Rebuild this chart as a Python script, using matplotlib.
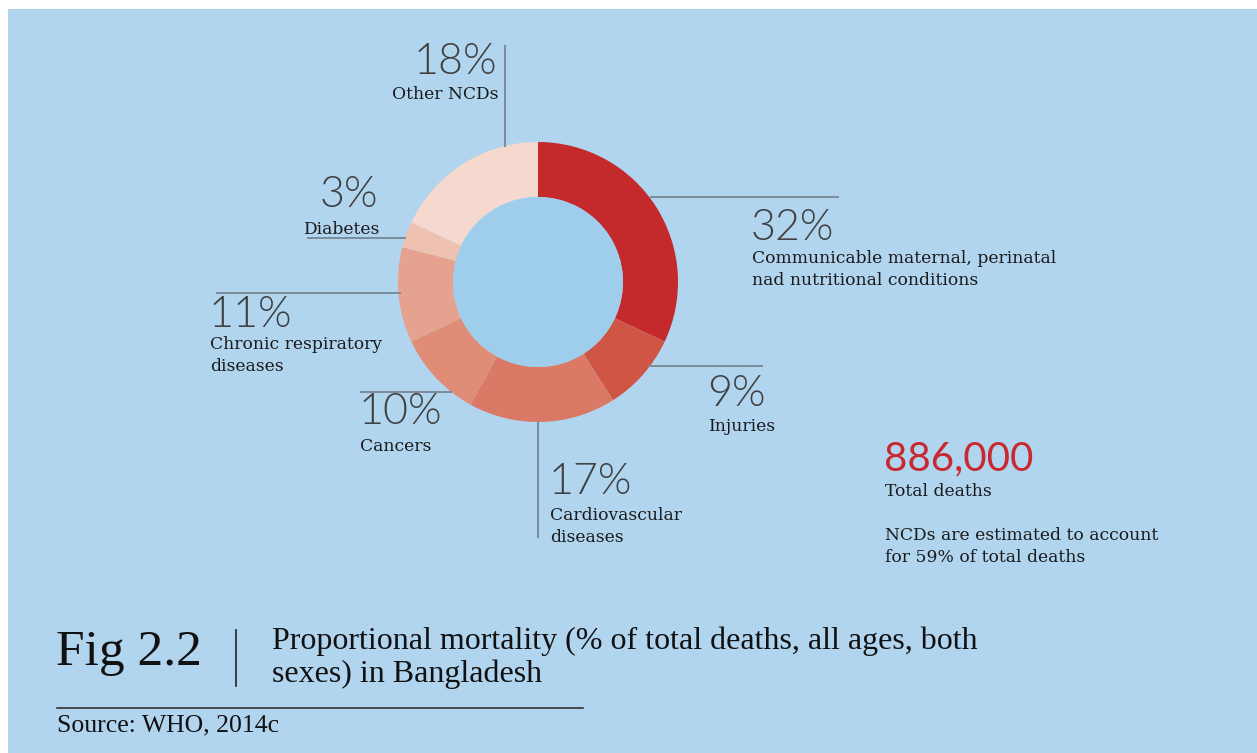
import matplotlib
matplotlib.use("Agg")
from matplotlib import pyplot as plt
from matplotlib.patches import Circle, Rectangle

# proportional mortality, Bangladesh (share of total deaths, %)
causes = ["Communicable maternal, perinatal\nnad nutritional conditions",
          "Injuries",
          "Cardiovascular\ndiseases",
          "Cancers",
          "Chronic respiratory\ndiseases",
          "Diabetes",
          "Other NCDs"]
shares = [32, 9, 17, 10, 11, 3, 18]
colors = ["#C4292B", "#D05545", "#DA7A66", "#E08D78", "#E5A28F", "#EFC1B1", "#F5D8CE"]

total_deaths = "886,000"
ncd_note = "NCDs are estimated to account\nfor 59% of total deaths"

W, H = 1257, 753
BG = "#B1D4EF"
HOLE = "#9FCDEC"
LINE = "#7D8C99"
NUM = "#404040"
TXT = "#1A1A1A"

SANS = ["Lato", "DejaVu Sans"]
SERIF = ["DejaVu Serif"]
TITLE_SERIF = ["Liberation Serif", "DejaVu Serif"]

cx, cy, R, r_in = 538, 282, 140, 85

fig = plt.figure(figsize=(W / 100, H / 100), dpi=100)
fig.patch.set_facecolor("white")
ax = fig.add_axes([0, 0, 1, 1])

# donut: y axis runs downward, so start at -90 and go counterclockwise in data space
ax.pie(shares, colors=colors, startangle=-90, counterclock=True,
       center=(cx, cy), radius=R,
       wedgeprops=dict(width=R - r_in, edgecolor="none", linewidth=0))
ax.add_patch(Circle((cx, cy), r_in, facecolor=HOLE, edgecolor="none", zorder=3))

ax.set_xlim(0, W)
ax.set_ylim(H, 0)
ax.set_aspect("auto")
ax.axis("off")
ax.add_patch(Rectangle((8, 9), W, H, facecolor=BG, edgecolor="none", zorder=-5))

# leader lines
leaders = [
    [(505, 505), (45, 147)],      # other NCDs
    [(650, 839), (197, 197)],     # communicable
    [(648, 763), (366, 366)],     # injuries
    [(538, 538), (422, 538)],     # cardiovascular
    [(360, 452), (392, 392)],     # cancers
    [(216, 401), (293, 293)],     # respiratory
    [(307, 406), (238, 238)],     # diabetes
]
for xs, ys in leaders:
    ax.plot(xs, ys, color=LINE, lw=1.4, solid_capstyle="butt", zorder=1)

# (x, baseline of percent, gap below it, ha) for each cause, same order as shares
label_pos = [
    (751, 240, 10, "left"),
    (707, 406, 12, "left"),
    (549, 494, 13, "left"),
    (359, 424, 14, "left"),
    (209, 327, 9, "left"),
    (378, 207, 14, "right"),
    (497, 74, 12, "right"),
]
for share, name, (x, yb, gap, ha) in zip(shares, causes, label_pos):
    ax.text(x, yb, f"{share}%", ha=ha, va="baseline", fontsize=31,
            family=SANS, fontweight=300, color=NUM)
    ax.text(x + 1, yb + gap, name, ha=ha, va="top",
            fontsize=12.3, family=SERIF, color=TXT, linespacing=1.38)

# totals block
ax.text(884, 470, total_deaths, ha="left", va="baseline", fontsize=29,
        family=SANS, color="#C8282E")
ax.text(885, 483, "Total deaths", ha="left", va="top", fontsize=12.3,
        family=SERIF, color=TXT)
ax.text(885, 527, ncd_note, ha="left", va="top", fontsize=12.3,
        family=SERIF, color=TXT, linespacing=1.38)

# caption
ax.text(56, 665, "Fig 2.2", ha="left", va="baseline", fontsize=37,
        family=TITLE_SERIF, color="#111111")
ax.plot([236, 236], [630, 686], color="#222222", lw=1.2)
ax.text(272, 626, "Proportional mortality (% of total deaths, all ages, both\nsexes) in Bangladesh",
        ha="left", va="top", fontsize=23, family=TITLE_SERIF, color="#111111",
        linespacing=1.17)
ax.plot([57, 583], [708, 708], color="#333333", lw=1.2)
ax.text(57, 731, "Source: WHO, 2014c", ha="left", va="baseline", fontsize=18.5,
        family=TITLE_SERIF, color="#111111")

fig.savefig("out.png", dpi=100, facecolor="white")
